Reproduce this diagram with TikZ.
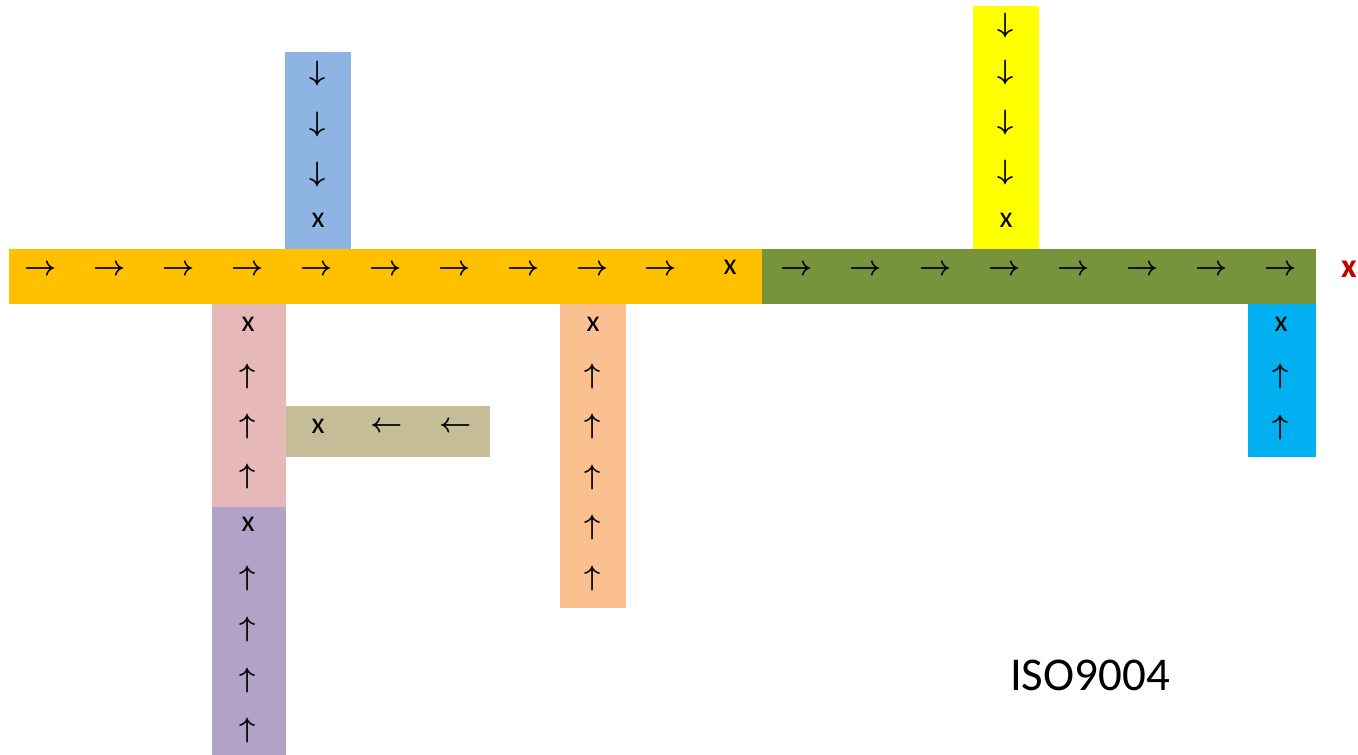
\RequirePackage{fix-cm}
\documentclass[tikz,border=0pt]{standalone}
\usepackage{fontspec}
\setmainfont{Carlito}
\begin{document}
\begin{tikzpicture}[x=1pt,y=-1pt,
  g/.style={inner sep=0pt,font=\fontsize{28}{32}\selectfont\boldmath},
  xs/.style={inner sep=0pt,font=\fontsize{30}{34}\selectfont}]
\definecolor{cOrange}{HTML}{FFC000}
\definecolor{cGreen}{HTML}{77933C}
\definecolor{cBlue}{HTML}{8EB4E3}
\definecolor{cYellow}{HTML}{FFFF00}
\definecolor{cPink}{HTML}{E6B9B8}
\definecolor{cPurple}{HTML}{B3A2C7}
\definecolor{cTan}{HTML}{C4BD97}
\definecolor{cPeach}{HTML}{FAC090}
\definecolor{cCyan}{HTML}{00B0F0}
\definecolor{cRed}{HTML}{C00000}
\useasboundingbox (0,0) rectangle (1358,755);
% bars
\fill[cOrange] (9,249) rectangle (762,304);
\fill[cGreen] (762,249) rectangle (1316,304);
\fill[cBlue] (285,52) rectangle (351,249);
\fill[cYellow] (973,6) rectangle (1039,249);
\fill[cPink] (212,304) rectangle (286,507);
\fill[cPurple] (212,507) rectangle (286,755);
\fill[cTan] (286,406) rectangle (490,457);
\fill[cPeach] (560,304) rectangle (626,608);
\fill[cCyan] (1248,304) rectangle (1316,457);
% orange bar
\foreach \xx [count=\i] in {41,110,179,248,317,386,455,524,593,661}
  \node[g] (o\i) at (\xx,270) {$\rightarrow$};
\node[xs] (ox) at (730,267) {x};
% green bar
\foreach \xx [count=\i] in {797,866,936,1005,1074,1143,1212,1281}
  \node[g] (gr\i) at (\xx,270) {$\rightarrow$};
\node[inner sep=0pt,font=\fontsize{34}{38}\selectfont\bfseries,text=cRed] (rx) at (1349,269) {x};
% blue
\foreach \yy [count=\i] in {73,124,174}
  \node[g] (b\i) at (318,\yy) {$\downarrow$};
\node[xs] (bx) at (318,220) {x};
% yellow
\foreach \yy [count=\i] in {25,72,122,172}
  \node[g] (y\i) at (1006,\yy) {$\downarrow$};
\node[xs] (yx) at (1006,220) {x};
% pink
\node[xs] (px) at (248,324) {x};
\foreach \yy [count=\i] in {376,426,476}
  \node[g] (p\i) at (248,\yy) {$\uparrow$};
% purple
\node[xs] (ux) at (248,524) {x};
\foreach \yy [count=\i] in {578,629,680,730}
  \node[g] (u\i) at (248,\yy) {$\uparrow$};
% tan
\node[xs] (tx) at (318,426) {x};
\foreach \xx [count=\i] in {387,456}
  \node[g] (t\i) at (\xx,427) {$\leftarrow$};
% peach
\node[xs] (ex) at (593,324) {x};
\foreach \yy [count=\i] in {376,426,477,527,578}
  \node[g] (e\i) at (593,\yy) {$\uparrow$};
% cyan
\node[xs] (cx) at (1281,324) {x};
\foreach \yy [count=\i] in {376,427}
  \node[g] (c\i) at (1281,\yy) {$\uparrow$};
% label
\node[inner sep=0pt,font=\fontsize{47}{50}\selectfont] (iso) at (1090,675) {ISO9004};
\end{tikzpicture}
\end{document}
